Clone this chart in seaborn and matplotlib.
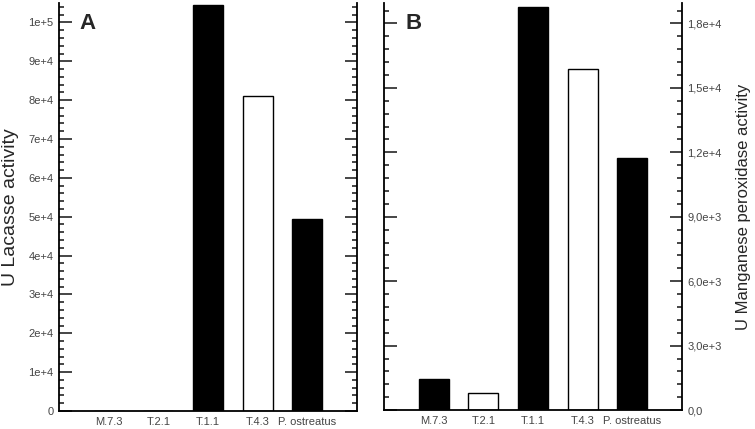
import matplotlib
matplotlib.use("Agg")
import matplotlib.pyplot as plt
import seaborn as sns
import pandas as pd
from matplotlib.ticker import MultipleLocator

# Data
strains = ["M.7.3", "T.2.1", "T.1.1", "T.4.3", "P. ostreatus"]
bar_colors = ["black", "white", "black", "white", "black"]
laccase = [0, 0, 104500, 81000, 49400]
mnp = [1450, 800, 18750, 15900, 11750]

lac_ticks = [0, 10000, 20000, 30000, 40000, 50000, 60000, 70000, 80000, 90000, 100000]
lac_labels = ["0", "1e+4", "2e+4", "3e+4", "4e+4", "5e+4", "6e+4", "7e+4", "8e+4", "9e+4", "1e+5"]
mnp_ticks = [0, 3000, 6000, 9000, 12000, 15000, 18000]
mnp_labels = ["0,0", "3,0e+3", "6,0e+3", "9,0e+3", "1,2e+4", "1,5e+4", "1,8e+4"]

sns.set_style("ticks")
plt.rcParams["font.family"] = ["Liberation Sans", "DejaVu Sans"]

fig = plt.figure(figsize=(7.55, 4.29), dpi=100)
axA = fig.add_axes([0.0781, 0.042, 0.3947, 0.951])
axB = fig.add_axes([0.5086, 0.044, 0.3947, 0.949])

df = pd.DataFrame({"strain": strains, "lac": laccase, "mnp": mnp})
pal = dict(zip(strains, bar_colors))

for ax, col in [(axA, "lac"), (axB, "mnp")]:
    sns.barplot(data=df, x="strain", y=col, hue="strain", palette=pal, saturation=1,
                edgecolor="black", linewidth=1, width=0.6, legend=False, ax=ax)
    ax.set_xlim(-1, 5)
    ax.set_xlabel("")
    ax.spines["top"].set_visible(False)
    for s in ["left", "right", "bottom"]:
        ax.spines[s].set_linewidth(1.3)
        ax.spines[s].set_color("black")
    ax.tick_params(axis="x", length=0, labelsize=8, labelcolor="#444444", pad=4)
    ax.tick_params(axis="y", which="major", direction="in", length=9, width=1.2,
                   left=True, right=True, labelsize=8, labelcolor="#444444", pad=4)
    ax.tick_params(axis="y", which="minor", direction="in", length=3.6, width=1.2,
                   left=True, right=True)

# panel A
axA.set_ylim(0, 105000)
axA.set_yticks(lac_ticks)
axA.set_yticklabels(lac_labels)
axA.yaxis.set_minor_locator(MultipleLocator(2000))
axA.tick_params(axis="y", labelleft=True, labelright=False)
axA.set_ylabel("U Lacasse activity", fontsize=14)
axA.yaxis.set_label_coords(-0.134, 0.5)
axA.text(0.07, 0.975, "A", transform=axA.transAxes, fontsize=16, fontweight="bold", va="top")

# panel B
axB.set_ylim(0, 18950)
axB.set_yticks(mnp_ticks)
axB.set_yticklabels(mnp_labels)
axB.yaxis.set_minor_locator(MultipleLocator(600))
axB.tick_params(axis="y", labelleft=False, labelright=True)
axB.yaxis.set_label_position("right")
axB.set_ylabel("U Manganese peroxidase activity", fontsize=12)
axB.yaxis.set_label_coords(1.181, 0.5)
axB.text(0.072, 0.975, "B", transform=axB.transAxes, fontsize=16, fontweight="bold", va="top")

fig.savefig("out.png", dpi=100)
